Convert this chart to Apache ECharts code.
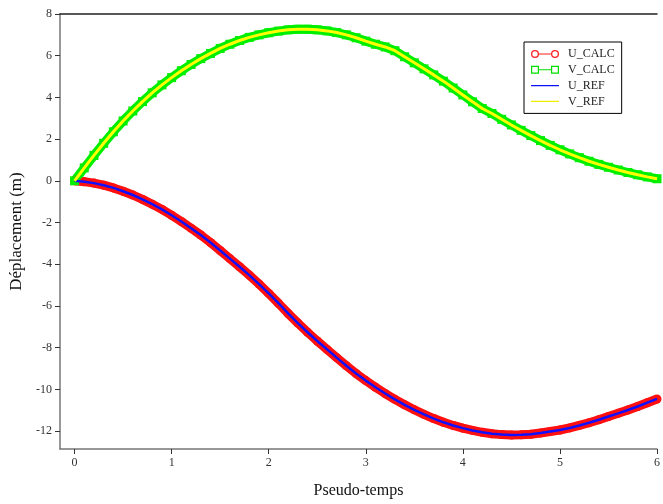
<!DOCTYPE html>
<html>
<head>
<meta charset="utf-8">
<script src="https://cdn.jsdelivr.net/npm/echarts@6/dist/echarts.min.js"></script>
<style>
html,body{margin:0;padding:0;background:#fff;}
#chart{width:663px;height:504px;}
</style>
</head>
<body>
<div id="chart"></div>
<script>
// Pseudo-time samples
const xs = [0.0,0.1,0.2,0.3,0.4,0.5,0.6,0.7,0.8,0.9,
            1.0,1.1,1.2,1.3,1.4,1.5,1.6,1.7,1.8,1.9,
            2.0,2.1,2.2,2.3,2.4,2.5,2.6,2.7,2.8,2.9,
            3.0,3.1,3.2,3.3,3.4,3.5,3.6,3.7,3.8,3.9,
            4.0,4.1,4.2,4.3,4.4,4.5,4.6,4.7,4.8,4.9,
            5.0,5.1,5.2,5.3,5.4,5.5,5.6,5.7,5.8,5.9,6.0];
// U_CALC (m)
const uCalc = [0.00,-0.04,-0.11,-0.21,-0.34,-0.50,-0.68,-0.89,-1.12,-1.37,
               -1.65,-1.95,-2.27,-2.60,-2.96,-3.34,-3.73,-4.12,-4.52,-4.95,
               -5.40,-5.87,-6.36,-6.82,-7.26,-7.68,-8.08,-8.48,-8.87,-9.24,
               -9.58,-9.90,-10.20,-10.48,-10.74,-10.98,-11.20,-11.40,-11.58,-11.73,
               -11.86,-11.97,-12.06,-12.13,-12.17,-12.19,-12.18,-12.15,-12.09,-12.02,
               -11.95,-11.85,-11.73,-11.60,-11.46,-11.30,-11.15,-10.99,-10.82,-10.64,-10.46];
// V_CALC (m)
const vCalc = [0.00,0.62,1.22,1.80,2.35,2.87,3.35,3.80,4.22,4.60,
               4.95,5.28,5.58,5.86,6.11,6.35,6.55,6.73,6.88,7.00,
               7.10,7.18,7.24,7.27,7.27,7.24,7.19,7.11,7.00,6.86,
               6.70,6.55,6.42,6.24,5.95,5.66,5.37,5.08,4.78,4.45,
               4.12,3.79,3.47,3.23,2.95,2.68,2.42,2.17,1.93,1.70,
               1.49,1.29,1.11,0.94,0.79,0.65,0.52,0.40,0.29,0.19,0.10];
// Reference solutions (coincide with the computed ones on the plot)
const uRef = uCalc;
const vRef = vCalc;
const xTicks = [0,1,2,3,4,5,6];
const yTicks = [-12,-10,-8,-6,-4,-2,0,2,4,6,8];

const pairs = (x, y) => x.map((v, i) => [v, y[i]]);
const FONT = 'Liberation Serif';

const ringIcon = 'path://M0,5A4,4 0 1,0 8,5A4,4 0 1,0 0,5Z M1.3,5A2.7,2.7 0 1,1 6.7,5A2.7,2.7 0 1,1 1.3,5Z' +
  'M8,4.5L20,4.5L20,5.5L8,5.5Z' +
  'M20,5A4,4 0 1,0 28,5A4,4 0 1,0 20,5Z M21.3,5A2.7,2.7 0 1,1 26.7,5A2.7,2.7 0 1,1 21.3,5Z';
const squareIcon = 'path://M0,1L8,1L8,9L0,9Z M1.2,2.2L1.2,7.8L6.8,7.8L6.8,2.2Z' +
  'M8,4.5L20,4.5L20,5.5L8,5.5Z' +
  'M20,1L28,1L28,9L20,9Z M21.2,2.2L21.2,7.8L26.8,7.8L26.8,2.2Z';
const lineIcon = 'path://M0,1L0.01,1L0.01,9L0,9Z M0,4.3L28,4.3L28,5.7L0,5.7Z M27.99,1L28,1L28,9L27.99,9Z';

const chart = echarts.init(document.getElementById('chart'), null, {renderer: 'canvas'});
chart.setOption({
  animation: false,
  backgroundColor: '#fff',
  grid: {left: 60, right: 2, top: 14, bottom: 52, containLabel: false},
  legend: {
    orient: 'vertical',
    left: 524, top: 42,
    padding: [6, 7, 6, 7],
    itemWidth: 36, itemHeight: 8, itemGap: 3.8,
    backgroundColor: '#fff',
    borderColor: '#000', borderWidth: 1, borderRadius: 0,
    textStyle: {fontFamily: FONT, fontSize: 12, color: '#222', lineHeight: 12},
    data: [
      {name: 'U_CALC', icon: ringIcon, itemStyle: {color: '#ff2020'}},
      {name: 'V_CALC', icon: squareIcon, itemStyle: {color: '#00e000'}},
      {name: 'U_REF', icon: lineIcon, itemStyle: {color: '#1010ff'}},
      {name: 'V_REF', icon: lineIcon, itemStyle: {color: '#eeee00'}}
    ]
  },
  xAxis: [{
    type: 'value', min: -0.15, max: 6,
    name: 'Pseudo-temps', nameLocation: 'middle', nameGap: 34,
    nameTextStyle: {fontFamily: FONT, fontSize: 16, color: '#111'},
    axisLine: {show: true, onZero: false, lineStyle: {color: '#777', width: 1.5}},
    axisTick: {show: true, inside: false, length: 5, customValues: xTicks, lineStyle: {color: '#333'}},
    axisLabel: {customValues: xTicks, margin: 8, fontFamily: FONT, fontSize: 12, color: '#333'},
    splitLine: {show: false}
  }, {
    type: 'value', position: 'top', min: -0.15, max: 6,
    axisLine: {show: true, onZero: false, lineStyle: {color: '#222', width: 1.5}},
    axisTick: {show: false}, axisLabel: {show: false}, splitLine: {show: false}
  }],
  yAxis: {
    type: 'value', min: -12.86, max: 8,
    name: 'Déplacement (m)', nameLocation: 'middle', nameGap: 30,
    nameTextStyle: {fontFamily: FONT, fontSize: 17, color: '#111'},
    axisLine: {show: true, onZero: false, lineStyle: {color: '#777', width: 1.5}},
    axisTick: {show: true, inside: false, length: 5, customValues: yTicks, lineStyle: {color: '#333'}},
    axisLabel: {customValues: yTicks, margin: 8, fontFamily: FONT, fontSize: 12, color: '#333'},
    splitLine: {show: false}
  },
  series: [
    {
      name: 'U_CALC', type: 'line', data: pairs(xs, uCalc),
      symbol: 'circle', symbolSize: 9, showAllSymbol: true,
      itemStyle: {color: '#ff1010'},
      lineStyle: {color: '#ff1010', width: 9}, z: 2
    },
    {
      name: 'V_CALC', type: 'line', data: pairs(xs, vCalc),
      symbol: 'rect', symbolSize: 9, showAllSymbol: true,
      itemStyle: {color: '#00ee00'},
      lineStyle: {color: '#00ee00', width: 9}, z: 2
    },
    {
      name: 'U_REF', type: 'line', data: pairs(xs, uRef),
      symbol: 'none', lineStyle: {color: '#1010ff', width: 2.5}, z: 3
    },
    {
      name: 'V_REF', type: 'line', data: pairs(xs, vRef),
      symbol: 'none', lineStyle: {color: '#ffff00', width: 3}, z: 3
    }
  ]
});
</script>
</body>
</html>
